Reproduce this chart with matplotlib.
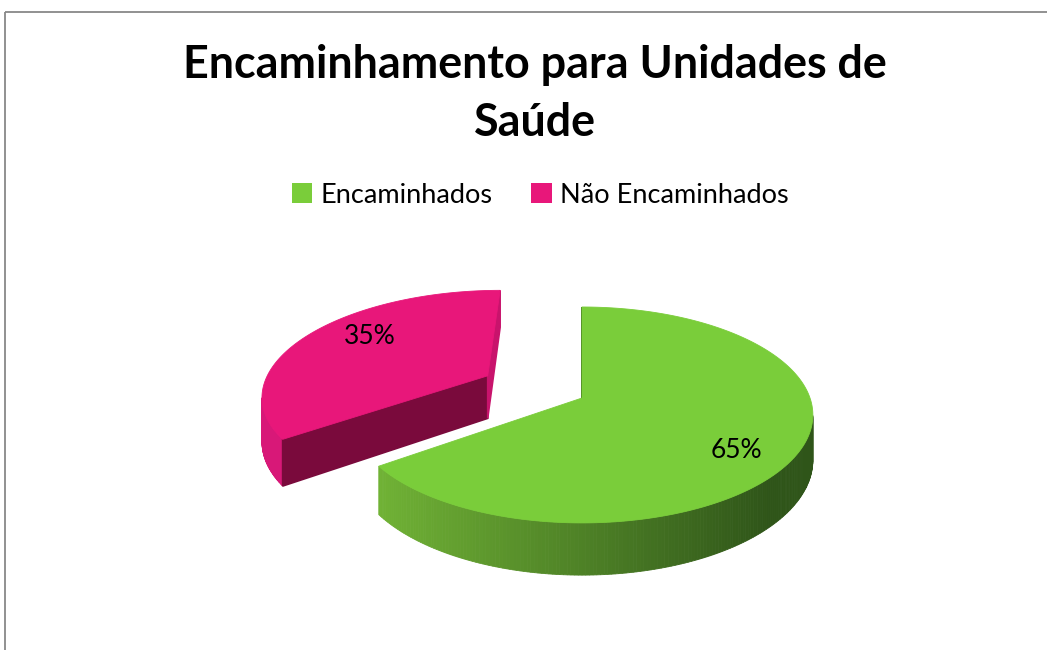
import numpy as np
import matplotlib.pyplot as plt
from matplotlib.patches import Polygon, Patch, Rectangle
import matplotlib.colors as mcolors

plt.rcParams['font.family'] = ['Lato', 'DejaVu Sans']

title = 'Encaminhamento para Unidades de\nSaúde'
labels = ['Encaminhados', 'Não Encaminhados']
values = [65, 35]
top_colors = ['#7ACD3A', '#E8177A']
wall_light = ['#70B235', '#D81878']
wall_dark = ['#2F5519', '#C8136C']
face_colors = ['#3E6E1F', '#7A0A3C']
explode = [0.0, 0.48]
label_nudge = [(0, -12), (9, 6)]  # points, tweak of the % labels

# simple perspective model of the tilted pie (pixel space)
cx, cy = 582, 398
R, A, B, H = 228, 105.3, 0.157, 44
cam = np.array([0.0, -1.0 / B])


def proj(u, v, z=0.0):
    s = 1.0 / (1.0 + B * v)
    return cx + R * u * s, cy - A * v * s + z * H * s


fig = plt.figure(figsize=(10.47, 6.5), dpi=100)
ax = fig.add_axes([0, 0, 1, 1])
ax.set_xlim(0, 1047)
ax.set_ylim(650, 0)
ax.axis('off')

ax.add_patch(Rectangle((5, 12), 1200, 800, fill=False, edgecolor='#888888', lw=1.3))

total = float(sum(values))
slices = []
start = 90.0
for i, v in enumerate(values):
    span = v / total * 360.0
    a0, a1 = start, start - span
    mid = np.radians((a0 + a1) / 2)
    off = explode[i] * np.array([np.cos(mid), np.sin(mid)])
    slices.append((i, a0, a1, mid, off))
    start = a1

# back to front
for i, a0, a1, mid, off in sorted(slices, key=lambda s: -s[4][1]):
    ang = np.radians(np.linspace(a0, a1, 300))
    us = off[0] + np.cos(ang)
    vs = off[1] + np.sin(ang)
    tx, ty = proj(us, vs)
    bx, by = proj(us, vs, 1.0)
    ax_, ay_ = proj(off[0], off[1])
    axb, ayb = proj(off[0], off[1], 1.0)

    # curved wall, shaded left to right
    c_l = np.array(mcolors.to_rgb(wall_light[i]))
    c_d = np.array(mcolors.to_rgb(wall_dark[i]))
    for k in range(len(ang) - 1):
        n = np.array([np.cos(ang[k]), np.sin(ang[k])])
        p = np.array([us[k], vs[k]])
        if np.dot(n, cam - p) <= 0:
            continue
        t = np.clip((tx[k] - 380) / (770 - 380), 0, 1)
        col = c_l * (1 - t) + c_d * t
        quad = [(tx[k], ty[k]), (tx[k + 1], ty[k + 1]), (bx[k + 1], by[k + 1]), (bx[k], by[k])]
        ax.add_patch(Polygon(quad, closed=True, facecolor=col, edgecolor=col, lw=0.6))

    # radial faces
    for e, sign, fc in ((a0, 1, face_colors[i]), (a1, -1, wall_dark[i])):
        er = np.radians(e)
        nrm = np.array([np.cos(er + sign * np.pi / 2), np.sin(er + sign * np.pi / 2)])
        pt = off + 0.5 * np.array([np.cos(er), np.sin(er)])
        if np.dot(nrm, cam - pt) < -1e-6:
            continue
        ex, ey = proj(off[0] + np.cos(er), off[1] + np.sin(er))
        exb, eyb = proj(off[0] + np.cos(er), off[1] + np.sin(er), 1.0)
        quad = [(ax_, ay_), (ex, ey), (exb, eyb), (axb, ayb)]
        ax.add_patch(Polygon(quad, closed=True, facecolor=fc, edgecolor=fc, lw=1.2))

    # top surface
    pts = [(ax_, ay_)] + list(zip(tx, ty))
    ax.add_patch(Polygon(pts, closed=True, facecolor=top_colors[i],
                         edgecolor=top_colors[i], lw=0.6))

    # data label
    lx, ly = proj(off[0] + 0.72 * np.cos(mid), off[1] + 0.72 * np.sin(mid))
    ax.annotate(f'{round(values[i] / total * 100)}%', (lx, ly), xytext=label_nudge[i],
                textcoords='offset points', ha='center', va='center',
                fontsize=19, color='black')

ax.text(535, 94, title, ha='center', va='center', fontsize=32.3,
        fontweight='bold', linespacing=1.45)

handles = [Patch(facecolor=c, edgecolor='none') for c in top_colors]
fig.legend(handles, labels, loc='center', bbox_to_anchor=(540 / 1047, 1 - 195 / 650),
           ncol=2, frameon=False, fontsize=19.5, handlelength=0.75, handleheight=0.75,
           columnspacing=1.45, handletextpad=0.3)

fig.savefig('out.png', dpi=100)
